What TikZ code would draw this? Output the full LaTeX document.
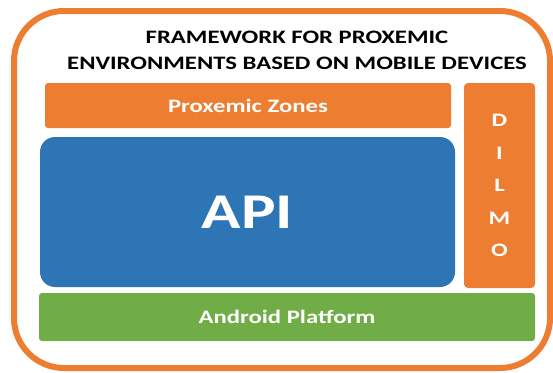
\documentclass[tikz,border=0pt]{standalone}
\usepackage{fontspec}
\setmainfont{Carlito}[FakeStretch=1.3]
\usetikzlibrary{positioning}

\definecolor{frameorange}{HTML}{ED7D31}
\definecolor{apiblue}{HTML}{2E75B6}
\definecolor{droidgreen}{HTML}{70AD47}

\tikzset{
	layer/.style={inner sep=0pt, text=white, font=\bfseries},
}

\begin{document}
\begin{tikzpicture}[x=1pt, y=-1pt]

	\useasboundingbox (0,0) rectangle (553,372);

	\node[draw=frameorange, line width=6pt, rounded corners=50pt,
		minimum width=536pt, minimum height=357pt] (frame) at (282,189.5) {};

	\node[align=center, font=\fontsize{19}{26}\selectfont\bfseries] (title) at (297,50)
		{FRAMEWORK FOR PROXEMIC\\ENVIRONMENTS BASED ON MOBILE DEVICES};

	\node[layer, fill=frameorange, rounded corners=3pt, minimum width=406pt,
		minimum height=45pt, font=\fontsize{19}{22}\selectfont\bfseries] (zones) at (248,105.5) {Proxemic Zones};
	\node[layer, fill=apiblue, rounded corners=15pt, minimum width=415pt,
		minimum height=150pt, font=\fontsize{50}{56}\selectfont\bfseries] (api) at (247.5,212) {API};
	\node[layer, fill=frameorange, rounded corners=4pt, minimum width=71pt,
		minimum height=205pt, align=center,
		font=\fontsize{19}{32.5}\selectfont\bfseries] (dilmo) at (499.5,185.5) {D\\I\\L\\M\\O};
	\node[layer, fill=droidgreen, rounded corners=3pt, minimum width=496pt,
		minimum height=48pt, font=\fontsize{19}{22}\selectfont\bfseries] (android) at (287,317) {Android Platform};

\end{tikzpicture}
\end{document}
